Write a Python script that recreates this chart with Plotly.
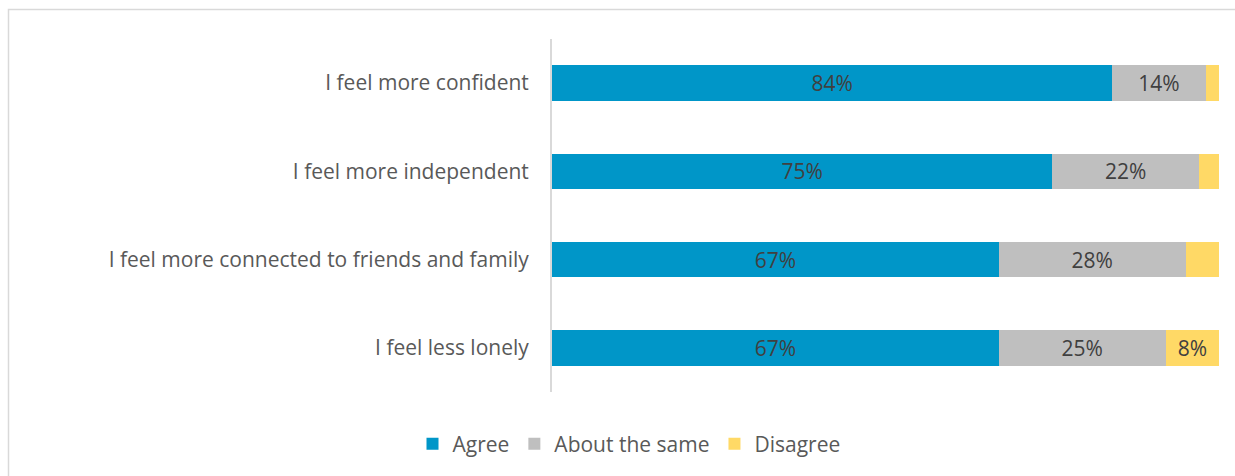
import plotly.graph_objects as go

categories = ["I feel more confident", "I feel more independent",
              "I feel more connected to friends and family", "I feel less lonely"]
agree = [84, 75, 67, 67]
same = [14, 22, 28, 25]
disagree = [2, 3, 5, 8]
series_names = ["Agree", "About the same", "Disagree"]
colors = ["#0096C8", "#BFBFBF", "#FFD966"]

W, H = 1235, 476
L, R, T, B = 552, 1219, 39, 392
FONT = "Open Sans, Lato, sans-serif"
FS = 21

def px_x(p):
    return (p - L) / (R - L)

def px_y(p):
    return (B - p) / (B - T)

fig = go.Figure()
for name, vals, col in zip(series_names, [agree, same, disagree], colors):
    fig.add_trace(go.Bar(
        y=categories, x=vals, name=name, orientation="h",
        marker=dict(color=col, line=dict(width=0)),
        text=[f"{v}%" if v >= 8 else "" for v in vals],
        textposition="inside", insidetextanchor="middle",
        textfont=dict(family=FONT, size=FS, color="#404040"),
        hoverinfo="skip",
    ))

fig.update_layout(
    width=W, height=H, barmode="stack", bargap=0.6,
    margin=dict(l=L, r=W - R, t=T, b=H - B, pad=0),
    paper_bgcolor="white", plot_bgcolor="white",
    font=dict(family=FONT, size=FS, color="#595959"),
    xaxis=dict(range=[0, 100], visible=False, fixedrange=True),
    yaxis=dict(autorange="reversed", showline=True, linecolor="#D9D9D9", linewidth=2,
               ticks="", ticklabelstandoff=17, showgrid=False,
               tickfont=dict(family=FONT, size=FS, color="#595959")),
    legend=dict(orientation="h", x=px_x(629), xanchor="center", y=px_y(444), yanchor="middle",
                font=dict(family=FONT, size=FS, color="#595959"), itemwidth=30, traceorder="normal"),
    showlegend=True,
    uniformtext=dict(minsize=8, mode="show"),
    shapes=[dict(type="rect", xref="paper", yref="paper",
                 x0=px_x(8.5), x1=px_x(1260), y0=px_y(9.5), y1=px_y(500),
                 line=dict(color="#D9D9D9", width=1.5), layer="below")],
)

fig.write_html("out.html")
